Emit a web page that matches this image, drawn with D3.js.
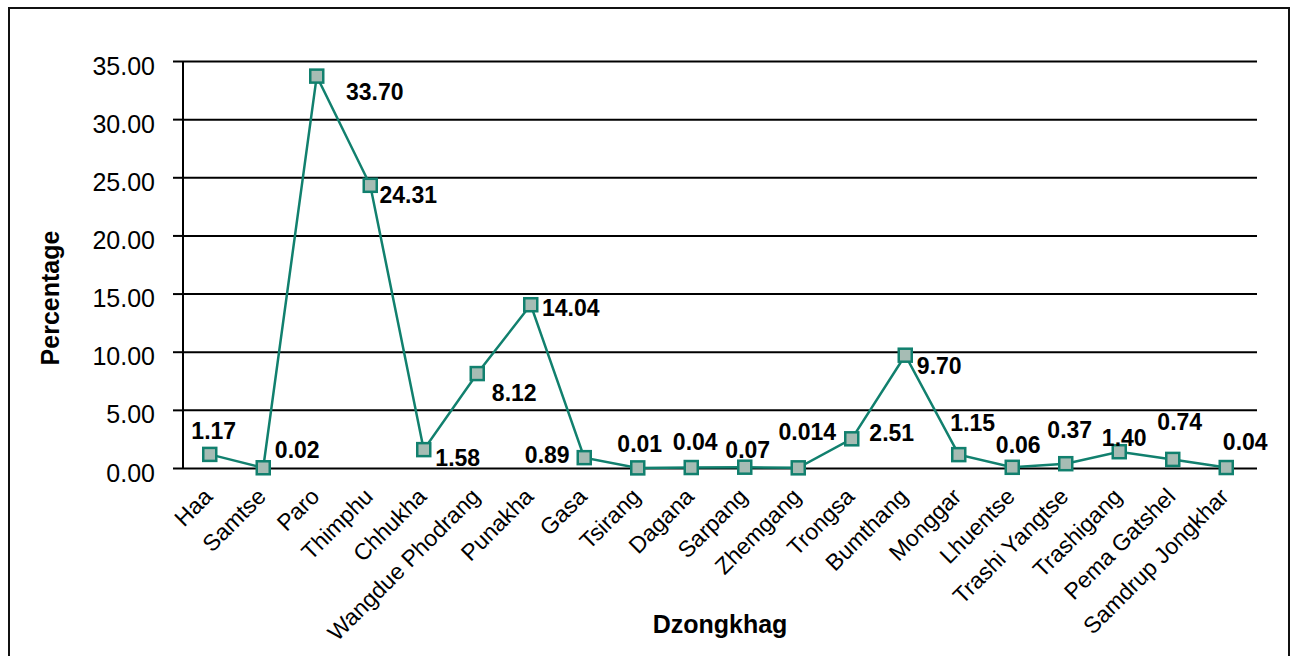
<!DOCTYPE html>
<html>
<head>
<meta charset="utf-8">
<script src="https://cdn.jsdelivr.net/npm/d3@7/dist/d3.min.js"></script>
<style>
  html, body { margin: 0; padding: 0; background: #fff; }
  svg { display: block; font-family: "Liberation Sans", Arial, sans-serif; }
</style>
</head>
<body>
<svg id="chart" width="1297" height="656"></svg>
<script>
// Dzongkhag names along the x axis
const categories = ["Haa", "Samtse", "Paro", "Thimphu", "Chhukha", "Wangdue Phodrang",
  "Punakha", "Gasa", "Tsirang", "Dagana", "Sarpang", "Zhemgang", "Trongsa", "Bumthang",
  "Monggar", "Lhuentse", "Trashi Yangtse", "Trashigang", "Pema Gatshel", "Samdrup Jongkhar"];

// Percentage per dzongkhag
const values = [1.17, 0.02, 33.70, 24.31, 1.58, 8.12, 14.04, 0.89, 0.01, 0.04,
  0.07, 0.014, 2.51, 9.70, 1.15, 0.06, 0.37, 1.40, 0.74, 0.04];

// Value labels as printed
const valueLabels = ["1.17", "0.02", "33.70", "24.31", "1.58", "8.12", "14.04", "0.89", "0.01", "0.04",
  "0.07", "0.014", "2.51", "9.70", "1.15", "0.06", "0.37", "1.40", "0.74", "0.04"];

// Y axis ticks
const yTicks = [0, 5, 10, 15, 20, 25, 30, 35];

// Label placement relative to each marker (dx, dy of label centre)
const labelNudge = [[4, -23], [34, -18], [58, 16], [38, 10], [34, 8], [37, 19], [40, 3],
  [-37, -3], [2, -24], [4, -26], [3, -17], [9, -36], [40, -6], [34, 11], [14, -32],
  [6, -22], [4, -34], [5, -14], [7, -37], [19, -26]];

const svg = d3.select("#chart");
const plotLeft = 183, plotRight = 1253, plotTop = 61, plotBottom = 468;
const teal = "#11806e";

// outer frame
svg.append("rect")
  .attr("x", 9).attr("y", 8).attr("width", 1280).attr("height", 660)
  .attr("fill", "none").attr("stroke", "#111").attr("stroke-width", 2);

const x = d3.scaleBand().domain(categories).range([plotLeft, plotRight]).padding(0);
const y = d3.scaleLinear().domain([0, 35]).range([plotBottom, plotTop]);
const cx = d => x(d) + x.bandwidth() / 2;

// horizontal gridlines
svg.append("g")
  .attr("transform", `translate(${plotLeft},0)`)
  .call(d3.axisRight(y).tickValues(yTicks).tickSize(plotRight - plotLeft + 4).tickFormat(""))
  .call(g => g.select(".domain").remove())
  .call(g => g.selectAll("line").attr("stroke", "#000").attr("stroke-width", 2));

// y axis with tick labels
svg.append("g")
  .attr("transform", `translate(${plotLeft},0)`)
  .call(d3.axisLeft(y).tickValues(yTicks).tickSize(10).tickPadding(18)
    .tickFormat(d3.format(".2f")))
  .call(g => g.select(".domain").attr("d", `M0,${plotTop}V${plotBottom}`).attr("stroke", "#000").attr("stroke-width", 2))
  .call(g => g.selectAll("line").attr("stroke", "#000").attr("stroke-width", 2))
  .call(g => g.selectAll("text").attr("font-size", 25).attr("fill", "#000")
    .attr("dy", null).attr("y", 13));

// x axis category labels
svg.append("g")
  .attr("transform", `translate(0,${plotBottom})`)
  .call(d3.axisBottom(x).tickSize(0))
  .call(g => g.select(".domain").remove())
  .call(g => g.selectAll("text")
    .attr("font-size", 23).attr("fill", "#000")
    .attr("x", 0).attr("y", 0).attr("dy", null)
    .attr("text-anchor", "end")
    .attr("transform", "translate(4,30) rotate(-45)"));

// line
svg.append("path")
  .datum(values)
  .attr("fill", "none").attr("stroke", teal).attr("stroke-width", 2.5)
  .attr("d", d3.line().x((d, i) => cx(categories[i])).y(d => y(d)));

// markers
const ms = 13;
svg.append("g").selectAll("rect")
  .data(values)
  .join("rect")
  .attr("x", (d, i) => cx(categories[i]) - ms / 2)
  .attr("y", d => y(d) - ms / 2)
  .attr("width", ms).attr("height", ms)
  .attr("fill", "#a6bcb4").attr("stroke", teal).attr("stroke-width", 2.5);

// value labels
svg.append("g").selectAll("text")
  .data(values)
  .join("text")
  .attr("x", (d, i) => cx(categories[i]) + labelNudge[i][0])
  .attr("y", (d, i) => y(d) + labelNudge[i][1])
  .attr("dy", "0.35em")
  .attr("text-anchor", "middle")
  .attr("font-size", 23).attr("font-weight", "bold").attr("fill", "#000")
  .text((d, i) => valueLabels[i]);

// axis titles
svg.append("text")
  .attr("x", 720).attr("y", 633)
  .attr("text-anchor", "middle")
  .attr("font-size", 25).attr("font-weight", "bold")
  .text("Dzongkhag");

svg.append("text")
  .attr("transform", "translate(59,298) rotate(-90)")
  .attr("text-anchor", "middle")
  .attr("font-size", 25).attr("font-weight", "bold")
  .text("Percentage");
</script>
</body>
</html>
